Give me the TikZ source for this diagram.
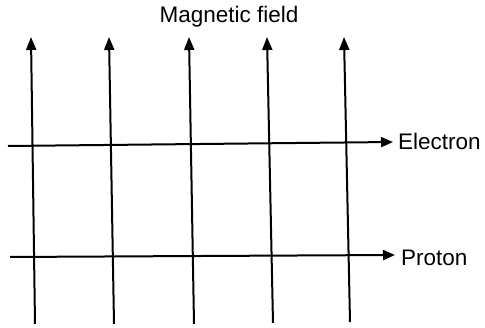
\documentclass[tikz,border=0pt]{standalone}
\usepackage{fontspec}
\setmainfont{Liberation Sans}
\usetikzlibrary{arrows.meta}

\begin{document}
\begin{tikzpicture}[
  x=1pt, y=1pt,
  font=\fontsize{22.5}{26}\selectfont,
  fieldline/.style={line width=2pt, -{Triangle[length=13pt,width=10pt]}},
  beamline/.style={line width=2pt, -{Triangle[length=12pt,width=10pt]}},
  lbl/.style={inner sep=0pt, anchor=west}
]
\useasboundingbox (0,0) rectangle (485,328);
% magnetic field lines
\coordinate (b1) at (35,4);   \coordinate (t1) at (31,291);
\coordinate (b2) at (114,4);  \coordinate (t2) at (109,291);
\coordinate (b3) at (194,4);  \coordinate (t3) at (189,291);
\coordinate (b4) at (273,5);  \coordinate (t4) at (267,291);
\coordinate (b5) at (350,6);  \coordinate (t5) at (344,291);
\draw[fieldline] (b1) -- (t1);
\draw[fieldline] (b2) -- (t2);
\draw[fieldline] (b3) -- (t3);
\draw[fieldline] (b4) -- (t4);
\draw[fieldline] (b5) -- (t5);
\node (mf) at (229,311) {Magnetic field};
% particle paths
\node[lbl] (el) at (398,187) {Electron};
\node[lbl] (pr) at (401,70) {Proton};
\coordinate (es) at (8,182);
\coordinate (ps) at (10,71);
\draw[beamline] (es) -- ([xshift=-5pt,yshift=-1pt]el.west);
\draw[beamline] (ps) -- ([xshift=-6pt,yshift=3pt]pr.west);
\end{tikzpicture}
\end{document}
